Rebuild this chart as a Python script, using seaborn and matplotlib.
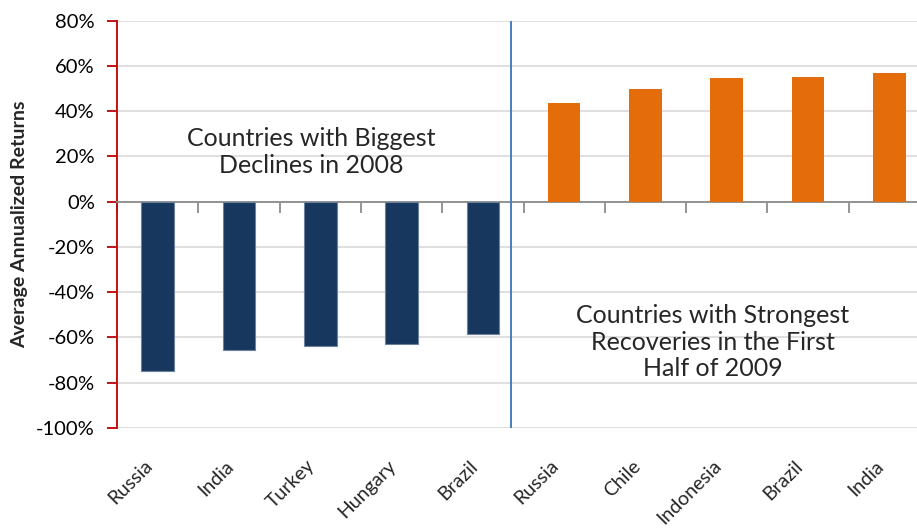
import pandas as pd
import matplotlib.pyplot as plt
import matplotlib.transforms as mtransforms
import seaborn as sns
from matplotlib.ticker import PercentFormatter, FixedLocator

# data
decline_countries = ["Russia", "India", "Turkey", "Hungary", "Brazil"]
decline_returns = [-0.748, -0.655, -0.639, -0.630, -0.583]
recovery_countries = ["Russia", "Chile", "Indonesia", "Brazil", "India"]
recovery_returns = [0.436, 0.498, 0.547, 0.551, 0.569]
y_ticks = [-1.0, -0.8, -0.6, -0.4, -0.2, 0.0, 0.2, 0.4, 0.6, 0.8]

countries = decline_countries + recovery_countries
groups = ["2008 declines"] * len(decline_countries) + ["2009 recoveries"] * len(recovery_countries)
df = pd.DataFrame({
    "slot": [f"{g}|{c}" for g, c in zip(groups, countries)],
    "country": countries,
    "group": groups,
    "ret": decline_returns + recovery_returns,
})

sns.set_style("white")
plt.rcParams["font.family"] = ["Lato", "DejaVu Sans"]
plt.rcParams["axes.unicode_minus"] = False

fig = plt.figure(figsize=(9.17, 5.29), dpi=100)
ax = fig.add_axes([117 / 917, 1 - 428 / 529, 813 / 917, (428 - 20.7) / 529])

sns.barplot(
    data=df, x="slot", y="ret", hue="group", order=df["slot"],
    palette={"2008 declines": "#17375E", "2009 recoveries": "#E46C0A"},
    saturation=1, width=0.4, dodge=False, legend=False, ax=ax, zorder=3,
)
for patch, grp in zip(ax.patches, df["group"]):
    if grp == "2008 declines":
        patch.set_edgecolor("#6C819C")
        patch.set_linewidth(0.8)
    else:
        patch.set_linewidth(0)

n = len(df)
ax.set_xlim(-0.5, n - 0.5)
ax.set_ylim(-1.0, 0.8)
ax.yaxis.set_major_locator(FixedLocator(y_ticks))
ax.yaxis.set_major_formatter(PercentFormatter(1.0, decimals=0))
ax.grid(axis="y", color="#D9D9D9", linewidth=1.2, zorder=0)
ax.set_axisbelow(True)

for side in ["top", "right"]:
    ax.spines[side].set_visible(False)
ax.spines["left"].set_color("#C00000")
ax.spines["left"].set_linewidth(1.3)
ax.tick_params(axis="y", left=True, direction="out", length=7, width=1.3, color="#C00000",
               labelsize=14.5, labelcolor="black", pad=9)

# category axis sits on the zero line with ticks between the bars
ax.spines["bottom"].set_position(("data", 0))
ax.spines["bottom"].set_color("#8C8C8C")
ax.spines["bottom"].set_linewidth(1.3)
ax.set_xticks([i - 0.5 for i in range(n)])
ax.set_xticklabels([])
ax.tick_params(axis="x", bottom=True, direction="out", length=8, width=1.3, color="#8C8C8C")

# country labels along the bottom edge
sec = ax.secondary_xaxis(0)
sec.set_xticks(range(n))
sec.set_xticklabels(df["country"], rotation=45, ha="right", rotation_mode="anchor",
                    fontsize=14)
sec.tick_params(length=0, pad=21)
sec.spines["bottom"].set_visible(False)
shift = mtransforms.ScaledTranslation(-14 / 100, 0, fig.dpi_scale_trans)
for lbl in sec.get_xticklabels():
    lbl.set_transform(lbl.get_transform() + shift)

ax.set_xlabel("")
ax.set_ylabel("Average Annualized Returns", fontsize=14, fontweight="bold", labelpad=6)

ax.axvline(4.35, color="#4A7EBB", linewidth=1.4, zorder=4)

ax.text(1.89, 0.22, "Countries with Biggest\nDeclines in 2008", ha="center", va="center",
        fontsize=18, linespacing=1.2, zorder=5)
ax.text(6.83, -0.62, "Countries with Strongest\nRecoveries in the First\nHalf of 2009",
        ha="center", va="center", fontsize=18, linespacing=1.2, zorder=5)

fig.savefig("out.png", dpi=100)
